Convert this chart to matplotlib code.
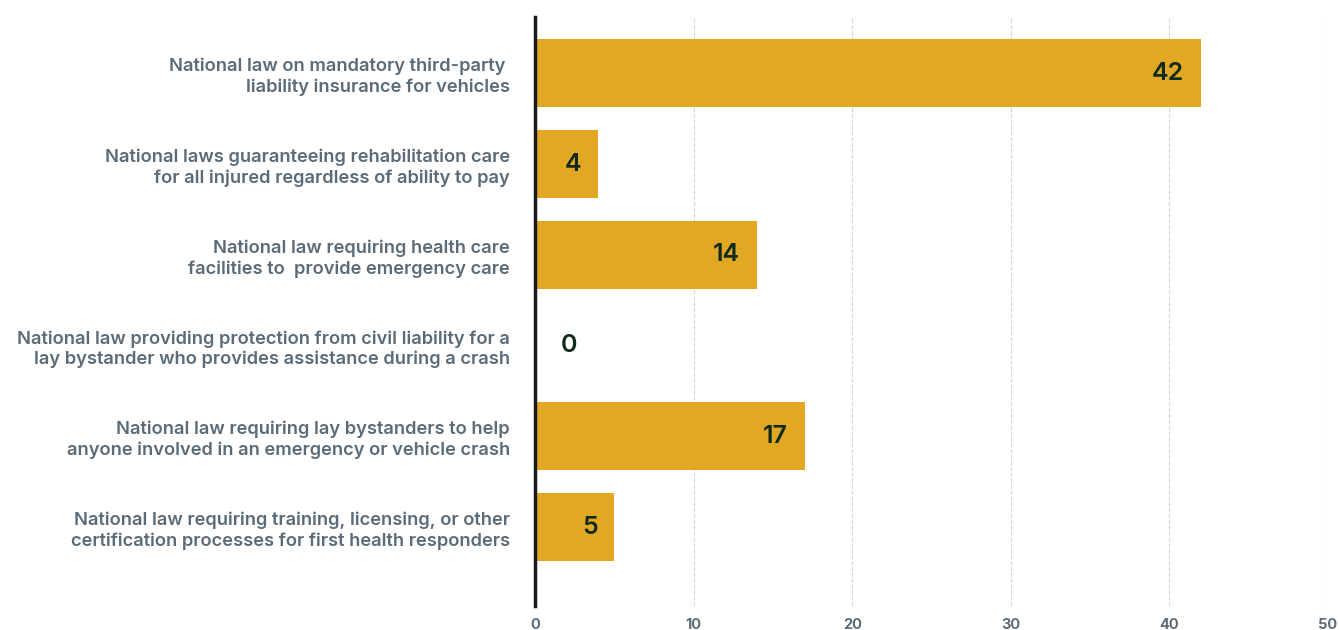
import matplotlib.pyplot as plt

categories = [
    "National law on mandatory third-party \nliability insurance for vehicles",
    "National laws guaranteeing rehabilitation care\nfor all injured regardless of ability to pay",
    "National law requiring health care\nfacilities to  provide emergency care",
    "National law providing protection from civil liability for a\nlay bystander who provides assistance during a crash",
    "National law requiring lay bystanders to help\nanyone involved in an emergency or vehicle crash",
    "National law requiring training, licensing, or other\ncertification processes for first health responders",
]
values = [42, 4, 14, 0, 17, 5]
xticks = [0, 10, 20, 30, 40, 50]

bar_color = '#E3A823'
label_color = '#5B6B78'
value_color = '#0F2A1A'

plt.rcParams['font.family'] = ['Inter', 'DejaVu Sans']

fig = plt.figure(figsize=(13.39, 6.3), dpi=100)
ax = fig.add_axes([535 / 1339, 1 - 606 / 630, (1328 - 535) / 1339, (606 - 17) / 630])

pos = list(range(len(values)))
ax.barh(pos, values, height=0.75, color=bar_color, zorder=2)

for p, v in zip(pos, values):
    ax.annotate(str(v), xy=(max(v, 3.7), p), xytext=(-12, 0), textcoords='offset points',
                ha='right', va='center', fontsize=18, fontweight='semibold', color=value_color, zorder=3)

ax.set_xlim(0, 50)
ax.set_ylim(5.87, -0.62)
ax.set_xticks(xticks)
ax.set_yticks(pos)
ax.set_yticklabels(categories, fontsize=13.2, fontweight='semibold', color=label_color, linespacing=1.25)
ax.tick_params(axis='x', length=0, pad=8.5, labelsize=10.5, labelcolor=label_color)
ax.tick_params(axis='y', length=0, pad=18)
for lbl in ax.get_xticklabels():
    lbl.set_fontweight('bold')

ax.grid(axis='x', linestyle='--', color='#d6d6d6', linewidth=0.8, zorder=0)
for s in ['top', 'right', 'bottom']:
    ax.spines[s].set_visible(False)
ax.spines['left'].set_linewidth(2.5)
ax.spines['left'].set_color('#1a1a1a')
ax.spines['left'].set_zorder(4)

fig.savefig('out.png', dpi=100)
